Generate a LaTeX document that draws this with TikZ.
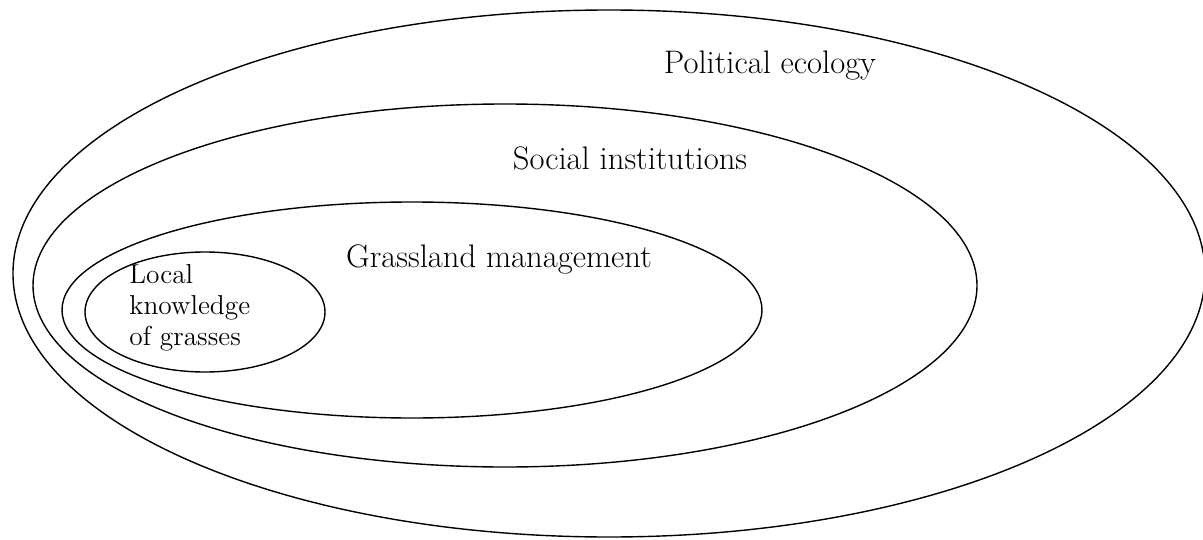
\documentclass[tikz,border=0pt]{standalone}
\usetikzlibrary{positioning}

\begin{document}
\begin{tikzpicture}[x=0.5pt, y=-0.5pt,
    ring/.style={draw, line width=0.7pt},
    biglabel/.style={font=\fontsize{16.3}{19}\selectfont, anchor=base, inner sep=0pt},
    smalllabel/.style={font=\fontsize{13.7}{15.5}\selectfont, align=left, anchor=north west, inner sep=0pt}]

        \useasboundingbox (0,0) rectangle (1203,540);

        % nested fields, outermost first
        \draw[ring] (609,273.5) ellipse [x radius=596, y radius=263.5];
        \draw[ring] (505,285.5) ellipse [x radius=472, y radius=181.5];
        \draw[ring] (412,310) ellipse [x radius=350, y radius=108];
        \draw[ring] (205,312) ellipse [x radius=120, y radius=60];

        \node[biglabel] (pol) at (770,74) {Political ecology};
        \node[biglabel] (soc) at (630,169) {Social institutions};
        \node[biglabel] (grass) at (499,267) {Grassland management};
        \node[smalllabel] (local) at (129,264) {Local\\knowledge\\of grasses};

    \end{tikzpicture}
\end{document}
